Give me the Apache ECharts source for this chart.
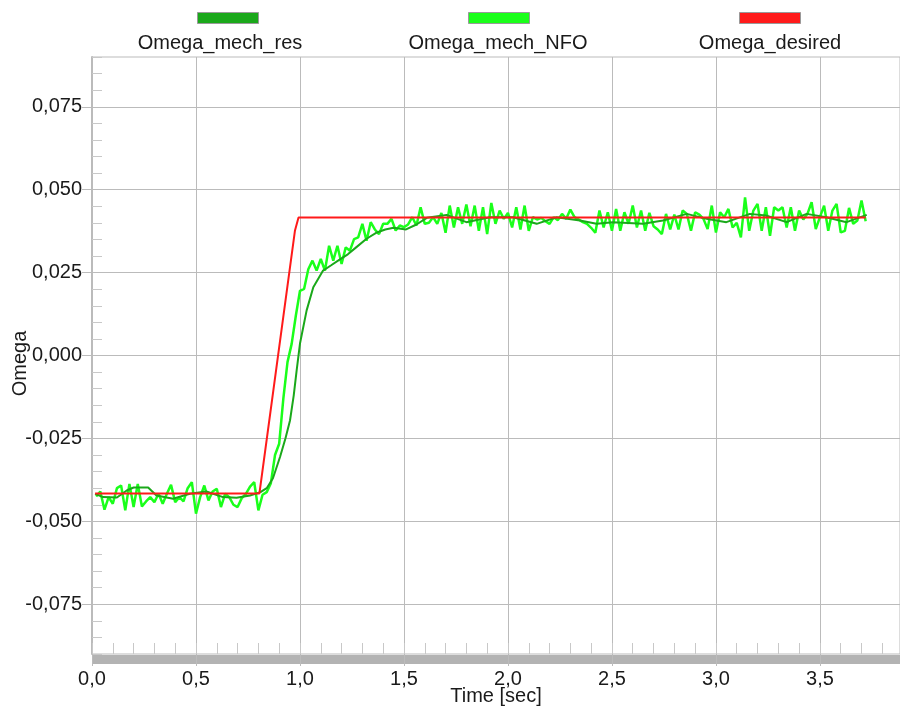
<!DOCTYPE html>
<html>
<head>
<meta charset="utf-8">
<script src="https://cdn.jsdelivr.net/npm/echarts@6/dist/echarts.min.js"></script>
<style>
  html, body { margin: 0; padding: 0; background: #fff; }
  #chart { width: 900px; height: 706px; }
</style>
</head>
<body>
<div id="chart"></div>
<script>
// series names (legend order)
const seriesNames = ['Omega_mech_res', 'Omega_mech_NFO', 'Omega_desired'];
const seriesColors = ['#1aa81a', '#1aff1a', '#ff1a1a'];

// major tick values on the Omega axis
const yMajorTicks = [-0.075, -0.05, -0.025, 0, 0.025, 0.05, 0.075];

// Omega_desired: reference ramp
const desiredTime = [0.015, 0.805, 0.976, 0.993, 3.72];
const desiredOmega = [-0.0416, -0.0416, 0.0377, 0.0416, 0.0416];

// Omega_mech_res: smoothed response, read at irregular times
const resTime = [0.015, 0.053, 0.12, 0.167, 0.20, 0.27, 0.31, 0.39, 0.47, 0.55,
    0.63, 0.695, 0.76, 0.81, 0.84, 0.87, 0.904, 0.93, 0.952, 0.97,
    0.984, 1.0, 1.032, 1.064, 1.111, 1.15, 1.192, 1.23, 1.27, 1.32,
    1.37, 1.41, 1.45, 1.51, 1.56, 1.61, 1.705, 1.80, 1.913, 2.025,
    2.138, 2.234, 2.346, 2.426, 2.505, 2.65, 2.745, 2.86, 2.955, 3.05,
    3.163, 3.24, 3.34, 3.436, 3.53, 3.628, 3.725];
const resOmega = [-0.0417, -0.0427, -0.0428, -0.0407, -0.0398, -0.0398, -0.0422, -0.0432, -0.0417, -0.0410,
    -0.0427, -0.0429, -0.0422, -0.0412, -0.0400, -0.0370, -0.0306, -0.0250, -0.0196, -0.0120,
    -0.0045, 0.0036, 0.0136, 0.0206, 0.0256, 0.0272, 0.0290, 0.0305, 0.0326, 0.0352,
    0.0371, 0.0380, 0.0385, 0.0380, 0.0395, 0.0415, 0.0424, 0.0402, 0.0417, 0.0417,
    0.0397, 0.0417, 0.0407, 0.0397, 0.0402, 0.0397, 0.0407, 0.0427, 0.0412, 0.0402,
    0.0427, 0.0422, 0.0402, 0.0427, 0.0417, 0.0402, 0.0424];

// Omega_mech_NFO: noisy observer output, one sample every 0.02 s
const nfoStart = 0.02;
const nfoStep = 0.02;
const nfoOmega = [
    -0.0425, -0.0410, -0.0465, -0.0427, -0.0447, -0.0400, -0.0392, -0.0467, -0.0387, -0.0457,
    -0.0387, -0.0455, -0.0440, -0.0427, -0.0442, -0.0417, -0.0447, -0.0417, -0.0390, -0.0442,
    -0.0427, -0.0440, -0.0400, -0.0382, -0.0477, -0.0427, -0.0392, -0.0437, -0.0410, -0.0402,
    -0.0457, -0.0417, -0.0427, -0.0450, -0.0457, -0.0430, -0.0417, -0.0395, -0.0382, -0.0467,
    -0.0420, -0.0412, -0.0385, -0.0300, -0.0266, -0.0130, -0.0020, 0.0035, 0.0120, 0.0195,
    0.0201, 0.0260, 0.0286, 0.0256, 0.0291, 0.0256, 0.0331, 0.0286, 0.0331, 0.0276,
    0.0326, 0.0316, 0.0351, 0.0356, 0.0397, 0.0346, 0.0402, 0.0380, 0.0366, 0.0397,
    0.0397, 0.0412, 0.0377, 0.0392, 0.0387, 0.0395, 0.0417, 0.0392, 0.0447, 0.0397,
    0.0400, 0.0417, 0.0397, 0.0430, 0.0370, 0.0452, 0.0386, 0.0447, 0.0397, 0.0455,
    0.0390, 0.0452, 0.0376, 0.0447, 0.0366, 0.0460, 0.0397, 0.0437, 0.0412, 0.0430,
    0.0386, 0.0447, 0.0380, 0.0452, 0.0376, 0.0417, 0.0410, 0.0415, 0.0405, 0.0397,
    0.0417, 0.0408, 0.0427, 0.0412, 0.0440, 0.0417, 0.0410, 0.0402, 0.0397, 0.0385,
    0.0370, 0.0437, 0.0386, 0.0432, 0.0376, 0.0442, 0.0376, 0.0432, 0.0397, 0.0452,
    0.0386, 0.0437, 0.0376, 0.0430, 0.0390, 0.0380, 0.0366, 0.0427, 0.0380, 0.0425,
    0.0380, 0.0437, 0.0427, 0.0376, 0.0432, 0.0425, 0.0412, 0.0381, 0.0452, 0.0371,
    0.0432, 0.0417, 0.0442, 0.0386, 0.0400, 0.0356, 0.0477, 0.0376, 0.0437, 0.0457,
    0.0376, 0.0447, 0.0361, 0.0447, 0.0437, 0.0447, 0.0386, 0.0447, 0.0376, 0.0437,
    0.0410, 0.0427, 0.0462, 0.0381, 0.0417, 0.0452, 0.0376, 0.0437, 0.0457, 0.0371,
    0.0376, 0.0445, 0.0397, 0.0407, 0.0467, 0.0405
];

const FONT = "'Liberation Sans', Arial, sans-serif";
const TEXT_COLOR = '#1a1a1a';
const GRID_COLOR = '#bbbbbb';

const xMax = 3.885;

function comma(v, digits) {
    return v.toFixed(digits).replace('.', ',');
}

function isMultiple(v, step) {
    return Math.abs(v / step - Math.round(v / step)) < 1e-6;
}

let chart = echarts.init(document.getElementById('chart'));

const resData = resTime.map((t, i) => [t, resOmega[i]]);
const nfoData = nfoOmega.map((v, i) => [nfoStart + i * nfoStep, v]);
const desiredData = desiredTime.map((t, i) => [t, desiredOmega[i]]);

// legend icons sit above their labels
const legendLeft = [197, 468, 739];
const legendLabelX = [220, 498, 770];

const option = {
    animation: false,
    textStyle: { fontFamily: FONT },
    grid: {
        left: 92,
        right: 0,
        top: 57,
        bottom: 52,
        show: true,
        borderColor: GRID_COLOR,
        borderWidth: 1,
        containLabel: false,
        outerBoundsMode: 'none'
    },
    legend: seriesNames.map((name, i) => ({
        data: [name],
        left: legendLeft[i],
        top: 12,
        padding: 0,
        itemWidth: 61,
        itemHeight: 11,
        icon: 'rect',
        selectedMode: false,
        formatter: () => '',
        itemStyle: { borderColor: '#999', borderWidth: 1 }
    })),
    graphic: seriesNames.map((name, i) => ({
        type: 'text',
        x: legendLabelX[i],
        y: 43,
        style: {
            text: name,
            font: '20px ' + FONT,
            fill: TEXT_COLOR,
            align: 'center',
            verticalAlign: 'middle',
            textAlign: 'center',
            textVerticalAlign: 'middle'
        }
    })),
    xAxis: [
        {
            // minor ticks every 0.1 s, pointing up
            type: 'value',
            min: 0,
            max: xMax,
            interval: 0.1,
            position: 'bottom',
            axisLine: { show: false, onZero: false },
            axisTick: { show: true, inside: true, length: 11, lineStyle: { color: '#c8c8c8', width: 1 } },
            axisLabel: { show: false },
            splitLine: { show: false }
        },
        {
            // major grid and labels every 0.5 s
            type: 'value',
            min: 0,
            max: xMax,
            interval: 0.5,
            position: 'bottom',
            name: 'Time [sec]',
            nameLocation: 'middle',
            nameGap: 32,
            nameMoveOverlap: false,
            nameTextStyle: { fontSize: 20, color: TEXT_COLOR, fontFamily: FONT },
            axisLine: { show: false, onZero: false },
            axisTick: { show: true, inside: false, length: 12, lineStyle: { color: GRID_COLOR } },
            axisLabel: {
                show: true,
                margin: 15,
                fontSize: 20,
                color: TEXT_COLOR,
                fontFamily: FONT,
                showMaxLabel: false,
                formatter: v => isMultiple(v, 0.5) ? comma(v, 1) : ''
            },
            splitLine: { show: true, lineStyle: { color: GRID_COLOR, width: 1 } }
        },
        {
            // the grey bar under the plot
            type: 'value',
            min: 0,
            max: xMax,
            position: 'bottom',
            offset: 5,
            axisLine: { show: true, onZero: false, lineStyle: { color: '#b3b3b3', width: 9, cap: 'butt' } },
            axisTick: { show: false },
            axisLabel: { show: false },
            splitLine: { show: false }
        }
    ],
    yAxis: [
        {
            type: 'value',
            min: -0.09,
            max: 0.09,
            interval: 0.005,
            position: 'left',
            name: 'Omega',
            nameLocation: 'middle',
            nameGap: 62,
            nameMoveOverlap: false,
            nameTextStyle: { fontSize: 20, color: TEXT_COLOR, fontFamily: FONT, padding: [0, 16, 0, 0] },
            axisLine: { show: true, onZero: false, lineStyle: { color: GRID_COLOR, width: 2 } },
            axisTick: { show: true, inside: true, length: 10, lineStyle: { color: '#c8c8c8', width: 1 } },
            axisLabel: {
                show: true,
                margin: 10,
                fontSize: 20,
                color: TEXT_COLOR,
                fontFamily: FONT,
                formatter: v => isMultiple(v, 0.025) && Math.abs(v) < 0.08 ? comma(Math.round(v / 0.025) * 0.025, 3) : ''
            },
            splitLine: { show: false }
        },
        {
            // outside ticks at the labelled values
            type: 'value',
            min: -0.09,
            max: 0.09,
            position: 'left',
            axisLine: { show: false, onZero: false },
            axisTick: { show: true, inside: false, length: 10, customValues: yMajorTicks, lineStyle: { color: GRID_COLOR } },
            axisLabel: { show: false },
            splitLine: { show: false }
        }
    ],
    series: [
        {
            name: seriesNames[0],
            type: 'line',
            xAxisIndex: 0,
            yAxisIndex: 0,
            data: resData,
            showSymbol: false,
            z: 3,
            lineStyle: { color: seriesColors[0], width: 2 },
            itemStyle: { color: seriesColors[0] },
            markLine: {
                silent: true,
                symbol: 'none',
                precision: 5,
                label: { show: false },
                lineStyle: { color: GRID_COLOR, width: 1, type: 'solid' },
                z: 1,
                data: yMajorTicks.map(v => ({ yAxis: v }))
            }
        },
        {
            name: seriesNames[1],
            type: 'line',
            xAxisIndex: 0,
            yAxisIndex: 0,
            data: nfoData,
            showSymbol: false,
            z: 2,
            lineStyle: { color: seriesColors[1], width: 2.5 },
            itemStyle: { color: seriesColors[1] }
        },
        {
            name: seriesNames[2],
            type: 'line',
            xAxisIndex: 0,
            yAxisIndex: 0,
            data: desiredData,
            showSymbol: false,
            z: 4,
            lineStyle: { color: seriesColors[2], width: 2 },
            itemStyle: { color: seriesColors[2] }
        }
    ]
};

chart.setOption(option);
</script>
</body>
</html>
